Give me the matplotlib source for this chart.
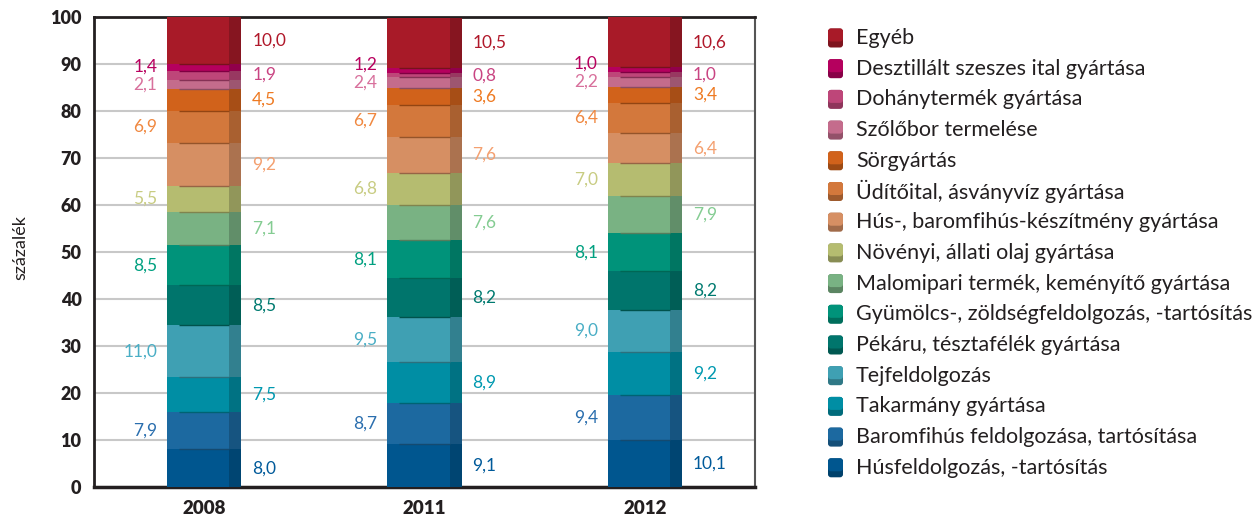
import numpy as np
import matplotlib.pyplot as plt
from matplotlib.patches import FancyBboxPatch
import matplotlib.colors as mcolors

plt.rcParams['font.family'] = ['Lato', 'DejaVu Sans']

years = ['2008', '2011', '2012']

# categories from bottom of the stack to top
categories = [
    'Húsfeldolgozás, -tartósítás',
    'Baromfihús feldolgozása, tartósítása',
    'Takarmány gyártása',
    'Tejfeldolgozás',
    'Pékáru, tésztafélék gyártása',
    'Gyümölcs-, zöldségfeldolgozás, -tartósítás',
    'Malomipari termék, keményítő gyártása',
    'Növényi, állati olaj gyártása',
    'Hús-, baromfihús-készítmény gyártása',
    'Üdítőital, ásványvíz gyártása',
    'Sörgyártás',
    'Szőlőbor termelése',
    'Dohánytermék gyártása',
    'Desztillált szeszes ital gyártása',
    'Egyéb',
]

v2008 = [8.0, 7.9, 7.5, 11.0, 8.5, 8.5, 7.1, 5.5, 9.2, 6.9, 4.5, 2.1, 1.9, 1.4, 10.0]
v2011 = [9.1, 8.7, 8.9, 9.5, 8.2, 8.1, 7.6, 6.8, 7.6, 6.7, 3.6, 2.4, 0.8, 1.2, 10.5]
v2012 = [10.1, 9.4, 9.2, 9.0, 8.2, 8.1, 7.9, 7.0, 6.4, 6.4, 3.4, 2.2, 1.0, 1.0, 10.6]

colors = ['#00568F', '#1C69A0', '#008EA4', '#3FA0B3', '#00756C', '#00937A',
          '#79B283', '#B5BC70', '#D68F63', '#D3783C', '#D1621B', '#C46C8C',
          '#BE4679', '#B5005E', '#A81A28']
label_colors = ['#005A9A', '#2A6EAE', '#0099B0', '#4AAEC5', '#007A70', '#00A080',
                '#84CC92', '#C8CC82', '#F4A070', '#F08840', '#EE7A22', '#D8709C',
                '#C94482', '#B8005E', '#B0182A']


def darker(c, f=0.8):
    r, g, b = mcolors.to_rgb(c)
    return (r * f, g * f, b * f)


data = np.array([v2008, v2011, v2012])
x = np.arange(len(years))
w = 0.336
side = 0.054
dark_txt = '#231f20'
min_gap = 3.8  # minimal distance between labels on the same side

fig = plt.figure(figsize=(12.59, 5.2), dpi=100)
ax = fig.add_axes([94 / 1259, 33 / 520, 661 / 1259, 470 / 520])

bottom = np.zeros(len(years))
last_left = np.full(len(years), -100.0)
last_right = np.full(len(years), -100.0)
for i, cat in enumerate(categories):
    vals = data[:, i]
    ax.bar(x - side / 2, vals, width=w - side, bottom=bottom, color=colors[i],
           linewidth=0, zorder=3)
    ax.bar(x + w / 2 - side / 2, vals, width=side, bottom=bottom,
           color=darker(colors[i]), linewidth=0, zorder=3)
    if i > 0:
        ax.hlines(bottom, x - w / 2 + side, x + w / 2 - side,
                  color=darker(colors[i], 0.7), lw=1, zorder=4)
    for j in range(len(years)):
        txt = f'{vals[j]:.1f}'.replace('.', ',')
        yc = bottom[j] + vals[j] / 2
        if i % 2 == 0:
            yc = max(yc, last_right[j] + min_gap)
            last_right[j] = yc
            ax.text(x[j] + 0.218, yc, txt, ha='left', va='center',
                    color=label_colors[i], fontsize=12.5)
        else:
            yc = max(yc, last_left[j] + min_gap)
            last_left[j] = yc
            ax.text(x[j] - 0.213, yc, txt, ha='right', va='center',
                    color=label_colors[i], fontsize=12.5)
    bottom = bottom + vals

ax.set_xlim(-0.5, 2.5)
ax.set_ylim(0, 100)
ax.set_yticks(np.arange(0, 101, 10))
ax.set_xticks(x)
ax.set_xticklabels(years, fontweight='heavy', fontsize=13.5, color=dark_txt)
for t in ax.get_yticklabels():
    t.set_fontweight('heavy')
    t.set_fontsize(13)
    t.set_color(dark_txt)
ax.tick_params(axis='both', length=0)
ax.tick_params(axis='y', pad=9)
ax.tick_params(axis='x', pad=9)
ax.yaxis.grid(True, color='#c8c8c8', lw=1.5)
ax.set_axisbelow(True)
ax.set_ylabel('százalék', fontsize=13, color=dark_txt)
ax.yaxis.set_label_coords(-0.1, 0.51)

ax.spines['left'].set_linewidth(2)
ax.spines['bottom'].set_linewidth(2.5)
ax.spines['top'].set_linewidth(2)
ax.spines['right'].set_linewidth(1.5)
for s in ax.spines.values():
    s.set_color(dark_txt)
ax.spines['right'].set_color('#555555')

# legend drawn in pixel coordinates
lg = fig.add_axes([0, 0, 1, 1])
lg.set_xlim(0, 1259)
lg.set_ylim(520, 0)
lg.axis('off')
lg.patch.set_alpha(0)
for k, i in enumerate(range(len(categories) - 1, -1, -1)):
    yc = 38 + k * 30.7
    lg.add_patch(FancyBboxPatch((828, yc - 9.5), 15, 19,
                                boxstyle='round,pad=0,rounding_size=3',
                                fc=darker(colors[i], 0.75), ec='none'))
    lg.add_patch(FancyBboxPatch((828, yc - 9.5), 15, 13,
                                boxstyle='round,pad=0,rounding_size=3',
                                fc=colors[i], ec='none'))
    lg.text(856, yc, categories[i], va='center', ha='left', fontsize=15.5,
            color=dark_txt)

fig.savefig('out.png', dpi=100, facecolor='white')
